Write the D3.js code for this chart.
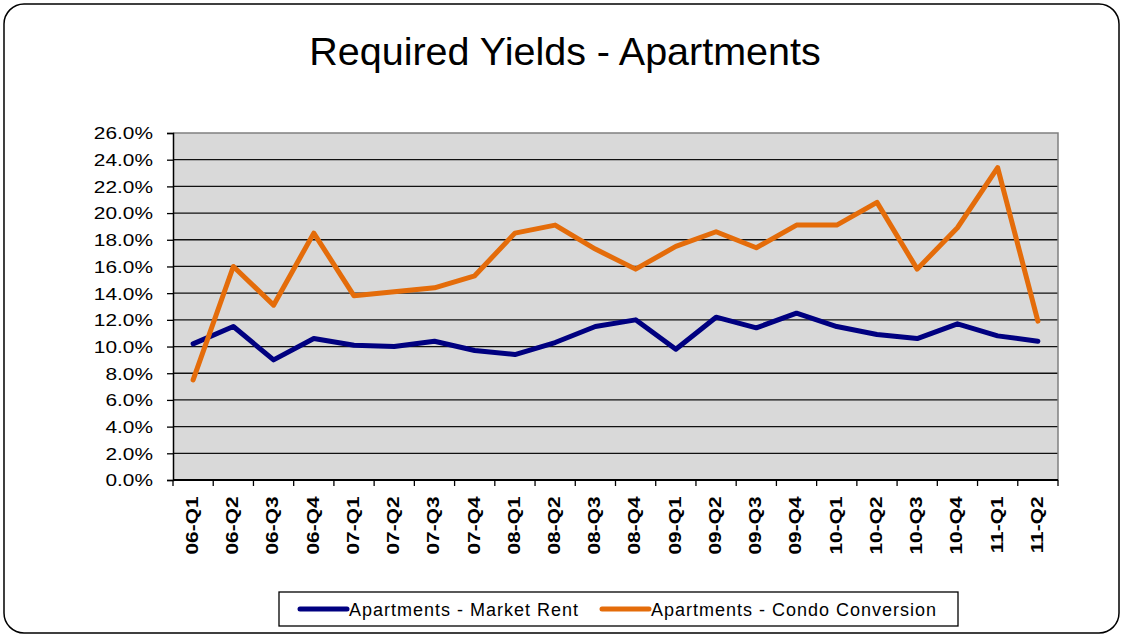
<!DOCTYPE html>
<html>
<head>
<meta charset="utf-8">
<script src="https://cdn.jsdelivr.net/npm/d3@7"></script>
<style>
  body { margin: 0; background: white; }
  text { font-family: "Liberation Sans", Arial, sans-serif; }
</style>
</head>
<body>
<div id="chart"></div>
<script>
const width = 1123
const height = 635
const margin = { left: 173, right: 65, top: 133, bottom: 155 }

// quarters on the x axis
const quarters = ["06-Q1","06-Q2","06-Q3","06-Q4","07-Q1","07-Q2","07-Q3","07-Q4",
    "08-Q1","08-Q2","08-Q3","08-Q4","09-Q1","09-Q2","09-Q3","09-Q4",
    "10-Q1","10-Q2","10-Q3","10-Q4","11-Q1","11-Q2"]
// yields in percent
const marketRent = [10.2, 11.5, 9.0, 10.6, 10.1, 10.0, 10.4, 9.7, 9.4, 10.3, 11.5, 12.0,
    9.8, 12.2, 11.4, 12.5, 11.5, 10.9, 10.6, 11.7, 10.8, 10.4]
const condoConversion = [7.5, 16.0, 13.1, 18.5, 13.8, 14.1, 14.4, 15.3, 18.5, 19.1, 17.3, 15.8,
    17.5, 18.6, 17.4, 19.1, 19.1, 20.8, 15.8, 18.9, 23.4, 11.9]
const yTicks = [0, 2, 4, 6, 8, 10, 12, 14, 16, 18, 20, 22, 24, 26]
const seriesNames = ["Apartments - Market Rent", "Apartments - Condo Conversion"]
const seriesColors = ["#000080", "#e46c0a"]

// the axis labels in the original are drawn wide
const stretch = 1.28

const innerW = width - margin.left - margin.right
const innerH = height - margin.top - margin.bottom

const svg = d3.select("#chart").append("svg").attr("width", width).attr("height", height)

// outer rounded frame
svg.append("rect")
    .attr("x", 4).attr("y", 4)
    .attr("width", width - 8).attr("height", height - 6)
    .attr("rx", 20).attr("ry", 20)
    .attr("fill", "white").attr("stroke", "#000").attr("stroke-width", 1.5)

svg.append("text")
    .text("Required Yields - Apartments")
    .attr("x", 565).attr("y", 65)
    .attr("text-anchor", "middle")
    .attr("font-size", 39.5)
    .attr("fill", "#000")

const x = d3.scaleBand().domain(quarters).range([0, innerW])
const y = d3.scaleLinear().domain([0, 26]).range([innerH, 0])

const g = svg.append("g").attr("transform", `translate(${margin.left}, ${margin.top})`)

g.append("rect")
    .attr("width", innerW).attr("height", innerH)
    .attr("fill", "#d9d9d9")

// gridlines
g.selectAll(".grid")
    .data(yTicks.filter(t => t > 0 && t < 26))
    .join("line")
    .attr("x1", 0).attr("x2", innerW)
    .attr("y1", d => y(d)).attr("y2", d => y(d))
    .attr("stroke", "#111").attr("stroke-width", 1.3)

// gray top / right border
g.append("path")
    .attr("d", `M0,${y(26)}H${innerW}V${innerH}`)
    .attr("fill", "none").attr("stroke", "#808080").attr("stroke-width", 1.5)

const yAxis = g.append("g")
    .call(d3.axisLeft(y).tickValues(yTicks).tickSize(6).tickFormat(d => d.toFixed(1) + "%"))
yAxis.select(".domain").attr("stroke", "#000").attr("stroke-width", 1.5)
yAxis.selectAll("line").attr("stroke", "#000").attr("stroke-width", 1.3)
yAxis.selectAll("text")
    .attr("font-family", "Liberation Sans, Arial, sans-serif")
    .attr("font-size", 16.3).attr("fill", "#000")
    .attr("x", -20 / stretch)
    .attr("dy", "0.36em")
    .attr("transform", `scale(${stretch},1)`)

// x axis with ticks at the band edges
const xAxis = g.append("g").attr("transform", `translate(0, ${innerH})`)
xAxis.append("line")
    .attr("x1", 0).attr("x2", innerW)
    .attr("stroke", "#000").attr("stroke-width", 2)
xAxis.selectAll(".tick")
    .data(quarters.concat(["end"]))
    .join("line")
    .attr("x1", (d, i) => i * x.step()).attr("x2", (d, i) => i * x.step())
    .attr("y1", 0).attr("y2", 6)
    .attr("stroke", "#000").attr("stroke-width", 1.3)
xAxis.selectAll(".lab")
    .data(quarters)
    .join("text")
    .text(d => d)
    .attr("transform", d => `translate(${x(d) + x.bandwidth() / 2 - 1}, 16.5) rotate(-90) scale(${stretch},1)`)
    .attr("text-anchor", "end")
    .attr("dy", "0.36em")
    .attr("font-size", 16.3)
    .attr("font-weight", "bold")
    .attr("fill", "#000")

const line = d3.line()
    .x((d, i) => x(quarters[i]) + x.bandwidth() / 2)
    .y(d => y(d))

g.selectAll(".series")
    .data([marketRent, condoConversion])
    .join("path")
    .attr("d", d => line(d))
    .attr("fill", "none")
    .attr("stroke", (d, i) => seriesColors[i])
    .attr("stroke-width", 5)
    .attr("stroke-linejoin", "round")
    .attr("stroke-linecap", "round")

// legend
const legend = svg.append("g")
legend.append("rect")
    .attr("x", 279).attr("y", 592)
    .attr("width", 679).attr("height", 34)
    .attr("fill", "white").attr("stroke", "#000").attr("stroke-width", 1.3)
const legendX = [300, 602]
seriesNames.forEach((name, i) => {
    legend.append("line")
        .attr("x1", legendX[i]).attr("x2", legendX[i] + 47)
        .attr("y1", 609).attr("y2", 609)
        .attr("stroke", seriesColors[i]).attr("stroke-width", 5)
        .attr("stroke-linecap", "round")
    legend.append("text")
        .text(name)
        .attr("x", legendX[i] + 49).attr("y", 615.5)
        .attr("font-size", 18)
        .style("letter-spacing", "1px")
        .attr("fill", "#000")
})
</script>
</body>
</html>
